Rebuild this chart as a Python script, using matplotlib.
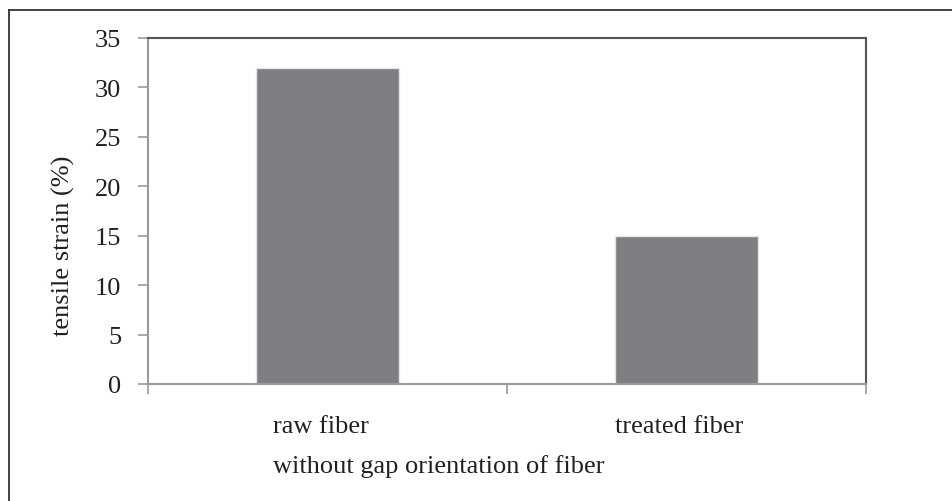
import matplotlib
matplotlib.use("Agg")
import matplotlib.pyplot as plt
import matplotlib.transforms as mtrans
from matplotlib.lines import Line2D

categories = ["raw fiber", "treated fiber"]
values = [32, 15]
yticks = [0, 5, 10, 15, 20, 25, 30, 35]

plt.rcParams['font.family'] = ['Liberation Serif', 'DejaVu Serif']
W, H = 952, 502
fig = plt.figure(figsize=(W / 100, H / 100), dpi=100)
ax = fig.add_axes([148 / W, 1 - 385 / H, (866 - 148) / W, (385 - 39) / H])

text_c = '#231f20'
fs = 19
x = list(range(len(categories)))
ax.bar(x, values, width=0.4, color='#7f7f83', edgecolor='#e6e6e6', linewidth=1, zorder=2)
ax.set_xlim(-0.5, len(categories) - 0.5)
ax.set_ylim(0, 35)
ax.set_yticks(yticks)
ax.set_yticklabels([str(v) for v in yticks], fontsize=fs, color=text_c)
ax.tick_params(axis='y', length=7.2, width=1.2, color='#9a9a9a', pad=12)

ax.set_xticks(x)
ax.set_xticklabels(categories, fontsize=fs, color=text_c)
ax.tick_params(axis='x', which='major', length=0, pad=22)
ax.set_xticks([-0.5 + i for i in range(len(categories) + 1)], minor=True)
ax.tick_params(axis='x', which='minor', length=7.2, width=1.2, color='#9a9a9a')
shift = mtrans.ScaledTranslation(-7 / 100, 0, fig.dpi_scale_trans)
for lab in ax.get_xticklabels():
    lab.set_transform(lab.get_transform() + shift)

for s in ['left', 'bottom']:
    ax.spines[s].set_color('#9a9a9a')
    ax.spines[s].set_linewidth(1.5)
for s in ['top', 'right']:
    ax.spines[s].set_color('#555555')
    ax.spines[s].set_linewidth(1.5)

fig.text(273 / W, 1 - 467 / H, "without gap orientation of fiber", fontsize=fs,
         color=text_c, ha='left', va='center')
fig.text(63 / W, 1 - 246 / H, "tensile strain (%)", fontsize=fs, color=text_c,
         ha='center', va='center', rotation=90)

fig.add_artist(Line2D([8.5 / W, 8.5 / W], [0, 1 - 11 / H], transform=fig.transFigure,
                      color='#333333', linewidth=1.3))
fig.add_artist(Line2D([8.5 / W, 1], [1 - 11 / H, 1 - 11 / H], transform=fig.transFigure,
                      color='#333333', linewidth=1.3))

fig.savefig("out.png", dpi=100)
